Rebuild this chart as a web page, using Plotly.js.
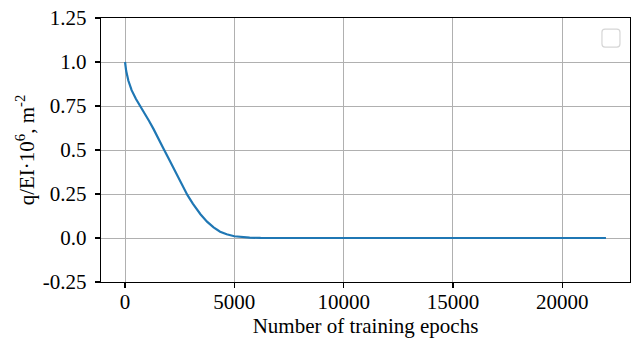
<!DOCTYPE html>
<html>
<head>
<meta charset="utf-8">
<script src="https://cdn.plot.ly/plotly-3.0.1.min.js"></script>
<style>html,body{margin:0;padding:0;background:#fff}#chart{width:637px;height:338px}</style>
</head>
<body>
<div id="chart"></div>
<script>
const epochs = [0, 50, 150, 300, 500, 700, 900, 1100, 1300, 1500, 1750, 2000, 2300, 2600, 2850, 3100, 3450, 3750, 4050, 4350, 4650, 5000, 5300, 5700, 6200, 7000, 10000, 15000, 20000, 22000];
const values = [1.0, 0.95, 0.895, 0.84, 0.79, 0.75, 0.71, 0.665, 0.62, 0.575, 0.51, 0.45, 0.377, 0.30, 0.245, 0.195, 0.135, 0.093, 0.06, 0.036, 0.021, 0.010, 0.005, 0.002, 0.0005, 0, 0, 0, 0, 0];
const xTickVals = [0, 5000, 10000, 15000, 20000];
const xTickText = ["0", "5000", "10000", "15000", "20000"];
const yTickVals = [-0.25, 0, 0.25, 0.5, 0.75, 1.0, 1.25];
const yTickText = ["-0.25", "0.0", "0.25", "0.5", "0.75", "1.0", "1.25"];

const font = {family: "Liberation Serif, serif", size: 21, color: "#000"};

// empty legend box (rounded), in paper coords
const x0 = 0.947, x1 = 0.981, y0 = 0.890, y1 = 0.958, rx = 0.0057, ry = 0.0114;
const legendPath = `M ${x0+rx} ${y1} L ${x1-rx} ${y1} Q ${x1} ${y1} ${x1} ${y1-ry} L ${x1} ${y0+ry} Q ${x1} ${y0} ${x1-rx} ${y0} L ${x0+rx} ${y0} Q ${x0} ${y0} ${x0} ${y0+ry} L ${x0} ${y1-ry} Q ${x0} ${y1} ${x0+rx} ${y1} Z`;

Plotly.newPlot('chart', [{
  x: epochs, y: values, type: 'scatter', mode: 'lines',
  line: {color: '#1f77b4', width: 2.2}, showlegend: false
}], {
  width: 637, height: 338,
  margin: {l: 101, r: 7, t: 18, b: 56},
  paper_bgcolor: '#fff', plot_bgcolor: '#fff',
  font: font,
  showlegend: false,
  xaxis: {
    range: [-1100, 23100], tickvals: xTickVals, ticktext: xTickText,
    showgrid: true, gridcolor: '#b0b0b0', gridwidth: 1,
    zeroline: false, showline: true, linecolor: '#000', linewidth: 1.2, mirror: true,
    ticks: 'outside', ticklen: 5, tickwidth: 1.2, tickcolor: '#000',
    ticklabelstandoff: -4,
    tickfont: font,
    title: {text: 'Number of training epochs', font: font, standoff: 2}
  },
  yaxis: {
    range: [-0.25, 1.25], tickvals: yTickVals, ticktext: yTickText,
    showgrid: true, gridcolor: '#b0b0b0', gridwidth: 1,
    zeroline: false, showline: true, linecolor: '#000', linewidth: 1.2, mirror: true,
    ticks: 'outside', ticklen: 5, tickwidth: 1.2, tickcolor: '#000',
    ticklabelstandoff: 4,
    tickfont: font,
    title: {text: 'q/EI·10<sup>6</sup>, m<sup>-2</sup>', font: font, standoff: 2}
  },
  shapes: [{
    type: 'path', xref: 'paper', yref: 'paper', path: legendPath,
    line: {color: '#d6d6d6', width: 1.2}, fillcolor: 'rgba(255,255,255,0.8)'
  }]
}, {displayModeBar: false, staticPlot: true});
</script>
</body>
</html>
